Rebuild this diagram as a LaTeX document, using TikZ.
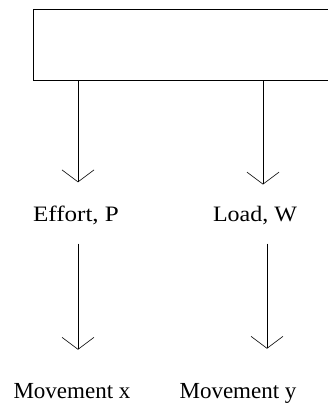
\documentclass[tikz,border=0pt]{standalone}
\usepackage{fontspec}
\setmainfont{Liberation Serif}
\usetikzlibrary{arrows.meta}
\begin{document}
\begin{tikzpicture}[x=1pt,y=-1pt,
  conn/.style={line width=0.6pt, -{Straight Barb[length=12pt,width=32pt,line width=0.6pt]}},
  lbl/.style={inner sep=0pt, anchor=base, font=\fontsize{22}{26}\selectfont},
  lblb/.style={inner sep=0pt, anchor=base, font=\fontsize{23}{27}\selectfont}]
\useasboundingbox (0,0) rectangle (328,404);
\clip (0,0) rectangle (328,404);
\node[draw, line width=0.7pt, anchor=north west, minimum width=320pt, minimum height=71pt, inner sep=0pt] (box) at (33,9) {};
\node[lbl] (eff) at (76,221) {\scalebox{1.14}[1]{Effort, P}};
\node[lbl] (load) at (255,221) {\scalebox{1.09}[1]{Load, W}};
\node[lblb] (mx) at (72,398) {Movement x};
\node[lblb] (my) at (238,398) {Movement y};
\coordinate (c1) at (78,0);
\coordinate (c2) at (263,0);
\coordinate (c3) at (267,0);
\draw[conn, shorten >=23pt] (box.south -| c1) -- (eff.north -| c1);
\draw[conn, shorten >=21pt] (box.south -| c2) -- (load.north -| c2);
\draw[conn, shorten <=19pt, shorten >=33pt] (eff.south -| c1) -- (mx.north -| c1);
\draw[conn, shorten <=19pt, shorten >=34pt] (load.south -| c3) -- (my.north -| c3);
\end{tikzpicture}
\end{document}
